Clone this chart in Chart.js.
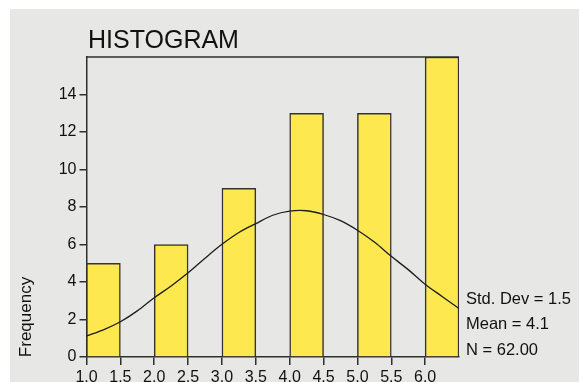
<!DOCTYPE html>
<html>
<head>
<meta charset="utf-8">
<script src="https://cdn.jsdelivr.net/npm/chart.js@4/dist/chart.umd.min.js"></script>
<style>
  html, body { margin: 0; padding: 0; background: #ffffff; }
  #wrap { width: 579px; height: 382px; position: relative; }
</style>
</head>
<body>
<div id="wrap"><canvas id="chart" width="579" height="382"></canvas></div>
<script>
// Histogram bins (left edge of each bin) and their counts
const binStarts = [1.0, 2.0, 3.0, 4.0, 5.0, 6.0];
const binWidth = 0.5;
const counts = [5, 6, 9, 13, 13, 16];

// Fitted normal curve, sampled along the x axis
const curveX = [1.0, 1.25, 1.5, 1.75, 2.0, 2.25, 2.5, 2.75, 3.0, 3.25, 3.5, 3.75,
                4.0, 4.25, 4.5, 4.75, 5.0, 5.25, 5.5, 5.75, 6.0, 6.25, 6.5];
const curveY = [1.12, 1.45, 1.88, 2.46, 3.16, 3.79, 4.49, 5.27, 6.01, 6.64, 7.11, 7.56,
                7.78, 7.80, 7.60, 7.27, 6.76, 6.13, 5.37, 4.66, 3.88, 3.23, 2.59];

// Axis ticks
const xTicks = [1.0, 1.5, 2.0, 2.5, 3.0, 3.5, 4.0, 4.5, 5.0, 5.5, 6.0];
const yTicks = [0, 2, 4, 6, 8, 10, 12, 14];

// Summary statistics
const stdDev = 1.5;
const mean = 4.1;
const nTotal = 62;

const FONT = '"Liberation Sans", Arial, Helvetica, sans-serif';
const INK = '#111111';
const AXIS = '#2e2e2e';

const backdrop = {
  id: 'backdrop',
  beforeDraw(chart) {
    const ctx = chart.ctx;
    ctx.save();
    ctx.fillStyle = '#ffffff';
    ctx.fillRect(0, 0, chart.width, chart.height);
    ctx.fillStyle = '#e7e7e6';
    ctx.fillRect(10, 9, chart.width - 10, chart.height - 9);
    ctx.restore();
  }
};

const decorations = {
  id: 'decorations',
  afterDraw(chart) {
    const ctx = chart.ctx;
    const a = chart.chartArea;
    ctx.save();
    // top frame line
    ctx.strokeStyle = AXIS;
    ctx.lineWidth = 1.5;
    ctx.beginPath();
    ctx.moveTo(a.left, a.top);
    ctx.lineTo(a.right, a.top);
    ctx.stroke();

    // title
    ctx.fillStyle = INK;
    ctx.font = '25px ' + FONT;
    ctx.textAlign = 'left';
    ctx.textBaseline = 'alphabetic';
    ctx.fillText('HISTOGRAM', 88, 48);

    // y axis title
    ctx.save();
    ctx.translate(31, 317);
    ctx.rotate(-Math.PI / 2);
    ctx.font = '17px ' + FONT;
    ctx.textAlign = 'center';
    ctx.textBaseline = 'alphabetic';
    ctx.fillText('Frequency', 0, 0);
    ctx.restore();

    // statistics block
    ctx.font = '16.5px ' + FONT;
    ctx.textAlign = 'left';
    const sx = a.right + 7;
    ctx.fillText('Std. Dev = ' + stdDev.toFixed(1), sx, 303.5);
    ctx.fillText('Mean = ' + mean.toFixed(1), sx, 329);
    ctx.fillText('N = ' + nTotal.toFixed(2), sx, 354.5);
    ctx.restore();
  }
};

const barData = binStarts.map((s, i) => ({ x: s + binWidth / 2, y: counts[i] }));
const lineData = curveX.map((x, i) => ({ x: x, y: curveY[i] }));

new Chart(document.getElementById('chart'), {
  type: 'bar',
  data: {
    datasets: [
      {
        type: 'line',
        data: lineData,
        borderColor: '#1c1c1c',
        borderWidth: 1.3,
        pointRadius: 0,
        fill: false,
        tension: 0.35,
        order: 0
      },
      {
        type: 'bar',
        data: barData,
        backgroundColor: '#fde84f',
        borderColor: '#333333',
        borderWidth: 1.5,
        barPercentage: 1.0,
        categoryPercentage: 1.0,
        order: 1
      }
    ]
  },
  options: {
    responsive: false,
    animation: false,
    layout: { padding: { left: 0, top: 57, right: 120, bottom: 0 } },
    plugins: { legend: { display: false }, tooltip: { enabled: false } },
    scales: {
      x: {
        type: 'linear',
        offset: false,
        min: 1.0,
        max: 6.5,
        afterFit(scale) { scale.height = 25; },
        afterBuildTicks(scale) { scale.ticks = xTicks.map(v => ({ value: v })); },
        ticks: {
          color: INK,
          font: { family: FONT, size: 16 },
          padding: 3,
          maxRotation: 0,
          autoSkip: false,
          callback: v => v.toFixed(1)
        },
        grid: { drawOnChartArea: false, offset: false, tickLength: 8, color: AXIS, lineWidth: 1.5 },
        border: { display: true, color: AXIS, width: 1.5 }
      },
      y: {
        min: 0,
        max: 16,
        afterFit(scale) { scale.width = 86.5; },
        afterBuildTicks(scale) { scale.ticks = yTicks.map(v => ({ value: v })); },
        ticks: {
          color: INK,
          font: { family: FONT, size: 16 },
          padding: 3,
          autoSkip: false
        },
        grid: { drawOnChartArea: false, tickLength: 7, color: AXIS, lineWidth: 1.5 },
        border: { display: true, color: AXIS, width: 1.5 }
      }
    }
  },
  plugins: [backdrop, decorations]
});
</script>
</body>
</html>
